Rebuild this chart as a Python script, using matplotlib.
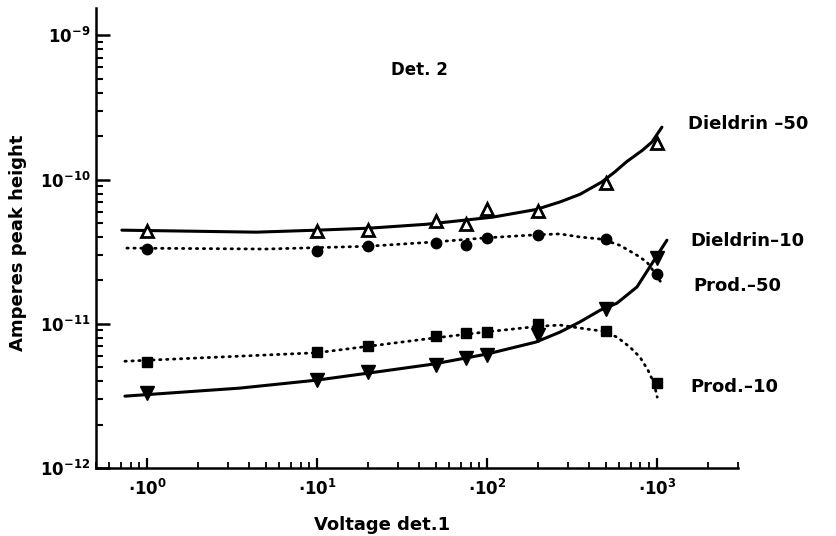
import numpy as np
import matplotlib.pyplot as plt

# measured points (voltage det.1, amperes)
volts = [1, 10, 20, 50, 75, 100, 200, 500, 1000]
dieldrin_50 = [4.4e-11, 4.4e-11, 4.5e-11, 5.2e-11, 4.9e-11, 6.3e-11, 6.1e-11, 9.4e-11, 1.8e-10]
dieldrin_10 = [3.3e-11, 3.2e-11, 3.45e-11, 3.65e-11, 3.5e-11, 3.95e-11, 4.15e-11, 3.9e-11, 2.2e-11]
prod_50 = [3.3e-12, 4.05e-12, 4.6e-12, 5.2e-12, 5.8e-12, 6.1e-12, 8.4e-12, 1.27e-11, 2.85e-11]
prod_10 = [5.4e-12, 6.35e-12, 7.0e-12, 8.2e-12, 8.6e-12, 8.75e-12, 9.9e-12, 8.9e-12, 3.9e-12]

# hand drawn curves
d50_cx = [0.71, 4.4, 10, 20, 44, 108, 194, 269, 352, 472, 560, 663, 823, 934, 1070]
d50_cy = [4.46e-11, 4.32e-11, 4.46e-11, 4.6e-11, 4.9e-11, 5.49e-11, 6.2e-11, 7.0e-11, 7.9e-11,
          9.6e-11, 1.12e-10, 1.33e-10, 1.6e-10, 1.82e-10, 2.31e-10]
d10_cx = [0.76, 5, 20, 50, 100, 200, 269, 352, 475, 606, 763, 873, 973, 1084]
d10_cy = [3.35e-11, 3.3e-11, 3.45e-11, 3.7e-11, 3.95e-11, 4.15e-11, 4.2e-11, 4.0e-11, 3.86e-11,
          3.5e-11, 2.99e-11, 2.68e-11, 2.25e-11, 1.85e-11]
p50_cx = [0.74, 3.5, 10, 20, 48, 100, 194, 269, 352, 462, 582, 763, 947, 1145]
p50_cy = [3.15e-12, 3.58e-12, 4.07e-12, 4.55e-12, 5.25e-12, 6.17e-12, 7.47e-12, 8.76e-12, 1.03e-11,
          1.24e-11, 1.39e-11, 1.8e-11, 2.68e-11, 3.8e-11]
p10_cx = [0.74, 10, 50, 100, 200, 269, 352, 475, 582, 693, 794, 885, 960, 1004]
p10_cy = [5.5e-12, 6.3e-12, 8.0e-12, 8.8e-12, 9.6e-12, 9.8e-12, 9.34e-12, 8.9e-12, 8.09e-12,
          6.9e-12, 5.88e-12, 4.78e-12, 3.88e-12, 3.1e-12]

xticks = [1, 10, 100, 1000]
xtick_labels = [r"$\bullet10^{0}$", r"$\bullet10^{1}$", r"$\bullet10^{2}$", r"$\bullet10^{3}$"]
yticks = [1e-12, 1e-11, 1e-10, 1e-9]
ytick_labels = [r"$10^{-12}$", r"$10^{-11}$", r"$10^{-10}$", r"$10^{-9}$"]

plt.rcParams['font.family'] = ['DejaVu Sans']
plt.rcParams['font.weight'] = 'bold'
plt.rcParams['mathtext.fontset'] = 'custom'
plt.rcParams['mathtext.rm'] = 'DejaVu Sans:bold'
plt.rcParams['mathtext.it'] = 'DejaVu Sans:bold'
plt.rcParams['mathtext.bf'] = 'DejaVu Sans:bold'
plt.rcParams['mathtext.default'] = 'rm'

W, H = 837, 536
fig = plt.figure(figsize=(W / 100, H / 100), dpi=100)
ax = fig.add_axes([96 / W, 1 - 468 / H, (738 - 96) / W, (468 - 8) / H])

dot = (0, (0.5, 2.0))
ax.plot(d50_cx, d50_cy, color='black', lw=2.2, solid_capstyle='round')
ax.plot(d10_cx, d10_cy, color='black', lw=2.0, ls=dot, dash_capstyle='round')
ax.plot(p50_cx, p50_cy, color='black', lw=2.2, solid_capstyle='round')
ax.plot(p10_cx, p10_cy, color='black', lw=2.0, ls=dot, dash_capstyle='round')

ax.plot(volts, dieldrin_50, ls='none', marker='^', ms=9, mfc='white', mec='black', mew=2)
ax.plot(volts, dieldrin_10, ls='none', marker='o', ms=7.5, color='black')
ax.plot(volts, prod_50, ls='none', marker='v', ms=9.5, color='black')
ax.plot(volts, prod_10, ls='none', marker='s', ms=7, color='black')

ax.set_xscale('log')
ax.set_yscale('log')
ax.set_xlim(0.5, 3000)
ax.set_ylim(1e-12, 10 ** -8.81)

ax.set_xticks(xticks)
ax.set_xticklabels(xtick_labels, fontsize=12)
ax.set_yticks(yticks)
ax.set_yticklabels(ytick_labels, fontsize=12)
ax.tick_params(axis='x', which='major', direction='in', length=7, width=1.6, pad=8)
ax.tick_params(axis='x', which='minor', direction='in', length=4, width=1.3)
ax.tick_params(axis='y', which='major', direction='in', length=10, width=1.8, pad=4)
ax.tick_params(axis='y', which='minor', direction='in', length=5, width=1.5)

ax.spines['top'].set_visible(False)
ax.spines['right'].set_visible(False)
ax.spines['left'].set_linewidth(1.8)
ax.spines['bottom'].set_linewidth(1.8)

fig.text(382 / W, 1 - 525 / H, "Voltage det.1", ha='center', va='center', fontsize=13)
fig.text(18 / W, 1 - 243 / H, "Amperes peak height", ha='center', va='center', rotation=90, fontsize=13)
fig.text(419 / W, 1 - 70 / H, "Det. 2", ha='center', va='center', fontsize=12)

fig.text(688 / W, 1 - 124 / H, "Dieldrin –50", ha='left', va='center', fontsize=13)
fig.text(690 / W, 1 - 241 / H, "Dieldrin–10", ha='left', va='center', fontsize=13)
fig.text(693 / W, 1 - 286 / H, "Prod.–50", ha='left', va='center', fontsize=13)
fig.text(690 / W, 1 - 387 / H, "Prod.–10", ha='left', va='center', fontsize=13)

fig.savefig("out.png", dpi=100)
